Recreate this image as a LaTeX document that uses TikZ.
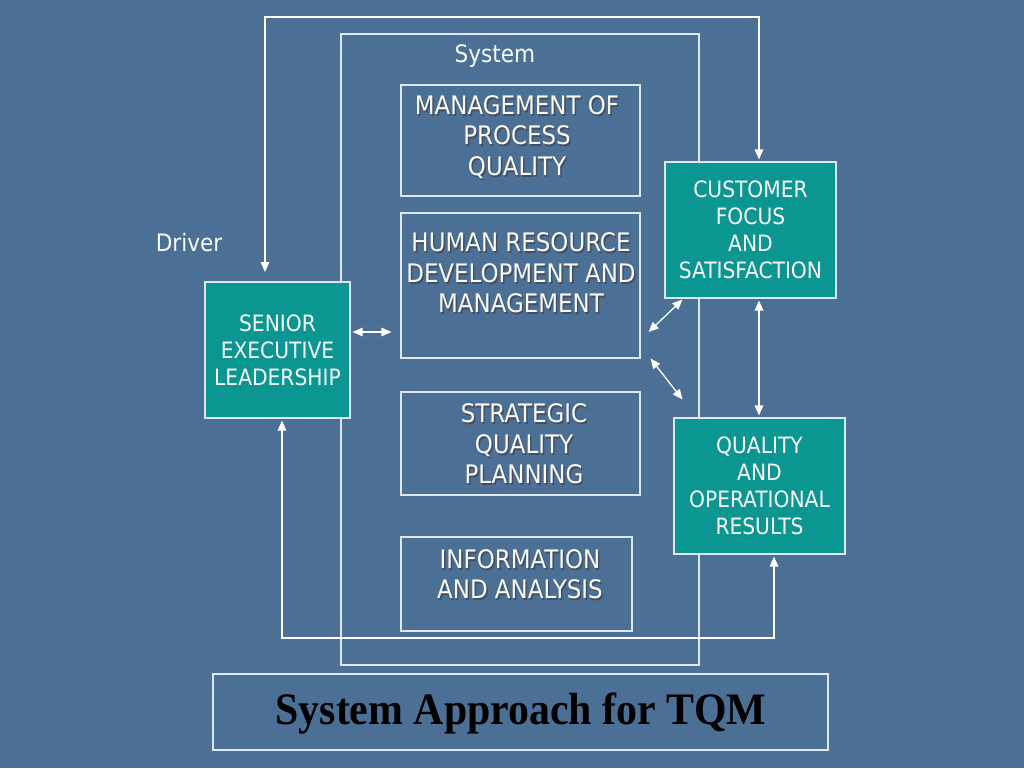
\documentclass[tikz,border=0pt]{standalone}
\usepackage{fontspec}
\setmainfont{DejaVu Sans Condensed}
\newfontfamily\titlefont{Liberation Serif}
\usetikzlibrary{arrows.meta}
\definecolor{bg}{RGB}{76,111,150}
\definecolor{tealbox}{RGB}{12,150,146}
\definecolor{edge}{RGB}{222,232,242}
\definecolor{txtw}{RGB}{248,250,252}
\definecolor{shadow}{RGB}{70,78,92}
\begin{document}
\begin{tikzpicture}[x=1pt,y=-1pt,
  boxframe/.style={draw=edge, line width=1.1pt, rectangle, inner sep=0pt},
  tbox/.style={draw=edge, line width=1.1pt, fill=tealbox, rectangle, inner sep=0pt,
     text=txtw, align=center, font=\fontsize{22.5}{27}\selectfont},
  btext/.style={align=center, text=txtw, font=\fontsize{25.5}{30.5}\selectfont, inner sep=0pt},
  stext/.style={align=center, text=shadow, font=\fontsize{25.5}{30.5}\selectfont, inner sep=0pt},
  plain/.style={text=txtw, font=\fontsize{24}{28}\selectfont, inner sep=0pt},
  conn/.style={draw=white, line width=1.3pt},
  dbl/.style={conn, {Triangle[width=8.5pt,length=10pt]}-{Triangle[width=8.5pt,length=10pt]}}
]
\fill[bg] (0,0) rectangle (1024,768);
\useasboundingbox (0,0) rectangle (1024,768);

% system frame
\node[boxframe, minimum width=358pt, minimum height=631pt] (sys) at (520,349.5) {};
\node[plain] (systxt) at (495,56) {System};
\node[plain] (driver) at (189,243) {Driver};

% outlined boxes
\node[boxframe, minimum width=239pt, minimum height=111pt] (mpq) at (520.5,140.5) {};
\node[boxframe, minimum width=239pt, minimum height=145pt] (hrd) at (520.5,285.5) {};
\node[boxframe, minimum width=239pt, minimum height=103pt] (sqp) at (520.5,443.5) {};
\node[boxframe, minimum width=231pt, minimum height=94pt]  (ia)  at (516.5,584) {};

\node[stext] at (518.5,139) {MANAGEMENT OF\\PROCESS\\QUALITY};
\node[btext] (mpqt) at (517,137) {MANAGEMENT OF\\PROCESS\\QUALITY};
\node[stext] at (522.5,275) {HUMAN RESOURCE\\DEVELOPMENT AND\\MANAGEMENT};
\node[btext] (hrdt) at (521,273) {HUMAN RESOURCE\\DEVELOPMENT AND\\MANAGEMENT};
\node[stext] at (525.5,446) {STRATEGIC\\QUALITY\\PLANNING};
\node[btext] (sqpt) at (524,444) {STRATEGIC\\QUALITY\\PLANNING};
\node[stext] at (521.5,576) {INFORMATION\\AND ANALYSIS};
\node[btext] (iat) at (520,574) {INFORMATION\\AND ANALYSIS};

% teal boxes
\node[tbox, minimum width=145pt, minimum height=136pt] (sel) at (277.5,350) {SENIOR\\EXECUTIVE\\LEADERSHIP};
\node[tbox, minimum width=171pt, minimum height=136pt] (cfs) at (750.5,230) {CUSTOMER\\FOCUS\\AND\\SATISFACTION};
\node[tbox, minimum width=171pt, minimum height=136pt] (qor) at (759.5,486) {QUALITY\\AND\\OPERATIONAL\\RESULTS};

% title
\node[boxframe, minimum width=615pt, minimum height=76pt] (ttl) at (520.5,712) {};
\node[font=\titlefont\bfseries\fontsize{45}{48}\selectfont, text=black, inner sep=0pt] (ttlt) at (521,714) {\scalebox{0.93}[1]{System Approach for TQM}};

% feedback loops
\coordinate (topL) at (265,272);
\draw[dbl] (topL) -- (265,17) -- (759,17) -- ([xshift=8.5pt,yshift=2pt]cfs.north);
\draw[dbl] ([xshift=4.5pt,yshift=-2pt]sel.south) -- (282,638) -- (774,638) -- ([xshift=14.5pt,yshift=-2pt]qor.south);

% connectors
\draw[dbl] ([xshift=2pt,yshift=18pt]sel.east) -- ([xshift=-9pt,yshift=-46.5pt]hrd.west);
\draw[dbl] ([xshift=8pt,yshift=-46.5pt]hrd.east) -- ([xshift=18pt,yshift=-1pt]cfs.south west);
\draw[dbl] ([xshift=10pt]hrd.south east) -- ([xshift=9pt,yshift=18pt]qor.north west);
\draw[dbl] ([xshift=8.5pt,yshift=-2pt]cfs.south) -- ([xshift=-0.5pt,yshift=2pt]qor.north);
\end{tikzpicture}
\end{document}
